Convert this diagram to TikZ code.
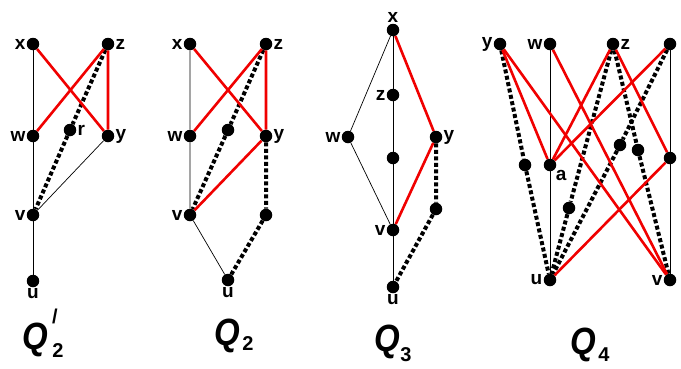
\documentclass[tikz,border=0pt]{standalone}
\usepackage{fontspec}
\setmainfont{Liberation Sans}
\usepackage{tikz}
\usetikzlibrary{positioning, backgrounds}
\definecolor{edgered}{HTML}{F00000}

\begin{document}
\begin{tikzpicture}[
    x=1pt, y=-1pt,
    dot/.style   = {circle, fill=black, inner sep=0pt, minimum size=12.5pt},
    lbl/.style   = {font=\fontsize{19}{19}\selectfont\bfseries, inner sep=1pt},
    thin/.style  = {line width=0.7pt, black},
    redge/.style = {line width=2.6pt, color=edgered},
    dedge/.style = {line width=4pt, black, dash pattern=on 4pt off 2.5pt},
    ttl/.style   = {font=\fontsize{33}{33}\selectfont\bfseries\itshape, inner sep=0pt},
    sub/.style   = {font=\fontsize{20}{20}\selectfont\bfseries, inner sep=0pt}
  ]
  \useasboundingbox (0,0) rectangle (681,368);

  %% Q'_2
  \node[dot, label={[lbl]left:x}]  (p1x) at (33,44)  {};
  \node[dot, label={[lbl]right:z}] (p1z) at (108,44) {};
  \node[dot, label={[lbl]left:w}]  (p1w) at (33,136) {};
  \node[dot, label={[lbl]right:y}] (p1y) at (108,136) {};
  \node[dot, label={[lbl]right:r}] (p1r) at (70,130) {};
  \node[dot, label={[lbl]left:v}]  (p1v) at (33,215) {};
  \node[dot, label={[lbl]below:u}] (p1u) at (33,281) {};

  %% Q_2
  \node[dot, label={[lbl]left:x}]  (p2x) at (190,44) {};
  \node[dot, label={[lbl]right:z}] (p2z) at (266,44) {};
  \node[dot, label={[lbl]left:w}]  (p2w) at (190,136) {};
  \node[dot, label={[lbl]right:y}] (p2y) at (266,136) {};
  \node[dot]                       (p2m) at (228,130) {};
  \node[dot, label={[lbl]left:v}]  (p2v) at (190,215) {};
  \node[dot]                       (p2n) at (266,215) {};
  \node[dot, label={[lbl]below:u}] (p2u) at (228,280) {};

  %% Q_3
  \node[dot, label={[lbl]above:x}] (p3x) at (393,30)  {};
  \node[dot, label={[lbl]left:z}]  (p3z) at (393,95)  {};
  \node[dot, label={[lbl]left:w}]  (p3w) at (348,137) {};
  \node[dot, label={[lbl]right:y}] (p3y) at (436,137) {};
  \node[dot]                       (p3m) at (393,158) {};
  \node[dot, label={[lbl]left:v}]  (p3v) at (393,230) {};
  \node[dot]                       (p3n) at (436,209) {};
  \node[dot, label={[lbl]below:u}] (p3u) at (393,287) {};

  %% Q_4
  \node[dot, label={[lbl]left:y}]  (p4y) at (500,44)  {};
  \node[dot, label={[lbl]left:w}]  (p4w) at (550,44)  {};
  \node[dot, label={[lbl]right:z}] (p4z) at (613,44)  {};
  \node[dot]                       (p4t) at (670,44)  {};
  \node[dot]                       (p4l) at (525,165) {};
  \node[dot, label={[lbl]-45:a}]   (p4a) at (550,165) {};
  \node[dot]                       (p4k) at (620,145) {};
  \node[dot]                       (p4j) at (638,150) {};
  \node[dot]                       (p4s) at (670,158) {};
  \node[dot]                       (p4m) at (569,208) {};
  \node[dot, label={[lbl]left:u}]  (p4u) at (550,280) {};
  \node[dot, label={[lbl]left:v}]  (p4v) at (670,280) {};

  %% edges
  \begin{scope}[on background layer]
    \draw[thin] (p1x) -- (p1w) -- (p1v) -- (p1u);
    \draw[thin] (p1v) -- (p1y);
    \draw[dedge] (p1z) -- (p1r) -- (p1v);
    \draw[redge] (p1x) -- (p1y);
    \draw[redge] (p1w) -- (p1z) -- (p1y);

    \draw[thin] (p2x) -- (p2w) -- (p2v) -- (p2u);
    \draw[dedge] (p2z) -- (p2m) -- (p2v);
    \draw[dedge] (p2y) -- (p2n) -- (p2u);
    \draw[redge] (p2x) -- (p2y);
    \draw[redge] (p2w) -- (p2z) -- (p2y) -- (p2v);

    \draw[thin] (p3x) -- (p3z) -- (p3m) -- (p3v) -- (p3u);
    \draw[thin] (p3x) -- (p3w) -- (p3v);
    \draw[dedge] (p3y) -- (p3n) -- (p3u);
    \draw[redge] (p3x) -- (p3y) -- (p3v);

    \draw[thin] (p4w) -- (p4a) -- (p4u);
    \draw[thin] (p4t) -- (p4s) -- (p4v);
    \draw[dedge] (p4y) -- (p4l) -- (p4u);
    \draw[dedge] (p4z) -- (p4m) -- (p4u);
    \draw[dedge] (p4t) -- (p4k) -- (p4u);
    \draw[dedge] (p4z) -- (p4j) -- (p4v);
    \draw[redge] (p4y) -- (p4a);
    \draw[redge] (p4y) -- (p4v);
    \draw[redge] (p4w) -- (p4v);
    \draw[redge] (p4z) -- (p4a);
    \draw[redge] (p4z) -- (p4s);
    \draw[redge] (p4t) -- (p4a);
    \draw[redge] (p4s) -- (p4u);
  \end{scope}

  %% titles
  \node[ttl] (q1)  at (35,340)  {\scalebox{1}[1.15]{Q}};
  \node[sub] (q1p) at (55,316)  {/};
  \node[sub] (q1s) at (58,351)  {2};
  \node[ttl] (q2)  at (227,336) {\scalebox{1}[1.15]{Q}};
  \node[sub] (q2s) at (248,344) {2};
  \node[ttl] (q3)  at (387,342) {\scalebox{1}[1.15]{Q}};
  \node[sub] (q3s) at (406,355) {3};
  \node[ttl] (q4)  at (583,345) {\scalebox{1}[1.15]{Q}};
  \node[sub] (q4s) at (604,355) {4};
\end{tikzpicture}
\end{document}
